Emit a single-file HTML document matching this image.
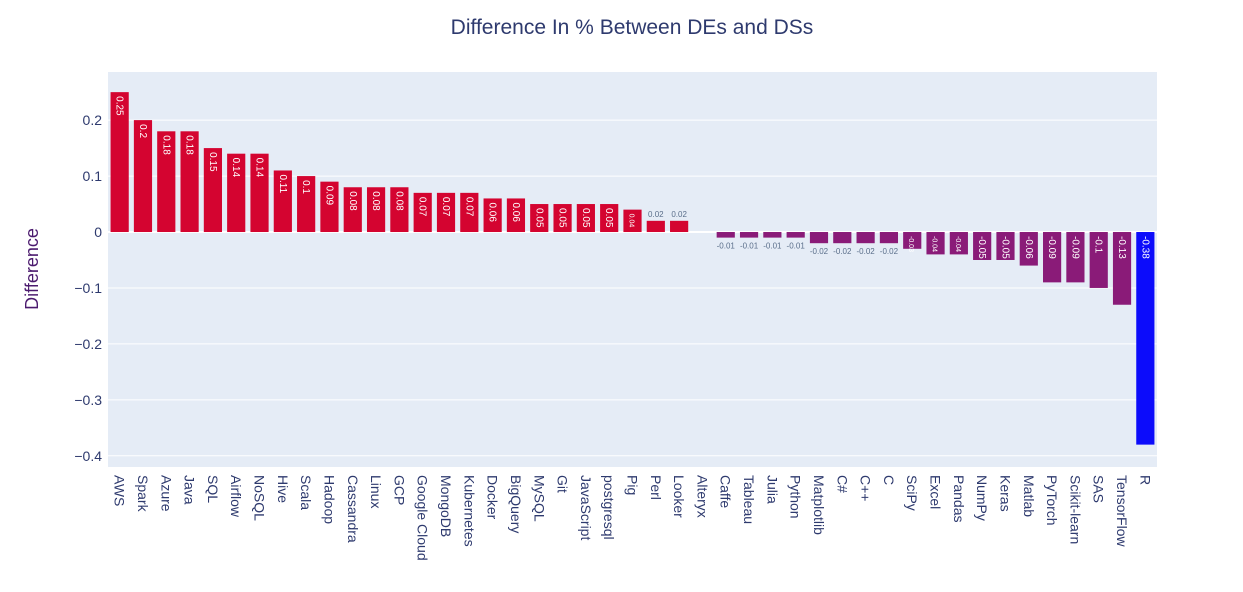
<!DOCTYPE html>
<html><head><meta charset="utf-8"><style>
body{margin:0;background:#fff;font-family:"Liberation Sans",sans-serif;}
</style></head><body>
<svg id="c" width="1243" height="587" xmlns="http://www.w3.org/2000/svg">
<rect x="0" y="0" width="1243" height="587" fill="#fff"/>
<rect x="108" y="72" width="1049" height="395" fill="#e5ecf6"/>
<text x="632" y="34" text-anchor="middle" font-size="21" fill="#2e3a6e">Difference In % Between DEs and DSs</text>
<text transform="translate(38,269) rotate(-90)" text-anchor="middle" font-size="18" fill="#4b1a6e">Difference</text>
<g id="grid"></g><g id="bars"></g><g id="labels"></g>
</svg>
<script>
const categories=["AWS","Spark","Azure","Java","SQL","Airflow","NoSQL","Hive","Scala","Hadoop","Cassandra","Linux","GCP","Google Cloud","MongoDB","Kubernetes","Docker","BigQuery","MySQL","Git","JavaScript","postgresql","Pig","Perl","Looker","Alteryx","Caffe","Tableau","Julia","Python","Matplotlib","C#","C++","C","SciPy","Excel","Pandas","NumPy","Keras","Matlab","PyTorch","Scikit-learn","SAS","TensorFlow","R"];
const values=[0.25,0.2,0.18,0.18,0.15,0.14,0.14,0.11,0.1,0.09,0.08,0.08,0.08,0.07,0.07,0.07,0.06,0.06,0.05,0.05,0.05,0.05,0.04,0.02,0.02,0,-0.01,-0.01,-0.01,-0.01,-0.02,-0.02,-0.02,-0.02,-0.03,-0.04,-0.04,-0.05,-0.05,-0.06,-0.09,-0.09,-0.1,-0.13,-0.38];
const yTicks=[0.2,0.1,0,-0.1,-0.2,-0.3,-0.4];
const yTickLabels=["0.2","0.1","0","−0.1","−0.2","−0.3","−0.4"];
const NS="http://www.w3.org/2000/svg";
const x0=108,x1=1157,yTop=72,yBot=467,yMax=0.286,yMin=-0.42;
const y=v=>yTop+(yMax-v)/(yMax-yMin)*(yBot-yTop);
const slot=(x1-x0)/categories.length;
const xc=i=>x0+slot*(i+0.5);
function mk(t,a){const e=document.createElementNS(NS,t);for(const k in a)e.setAttribute(k,a[k]);return e;}
const grid=document.getElementById('grid'),bars=document.getElementById('bars'),labels=document.getElementById('labels');
yTicks.forEach((t,i)=>{
 const l=mk('line',{x1:x0,x2:x1,y1:y(t),y2:y(t),stroke:'#fff','stroke-width':t===0?2:1});
 
 
 grid.appendChild(l);
 const tx=mk('text',{x:x0-6,y:y(t)+5,'text-anchor':'end','font-size':14,fill:'#2e3a6e'});
 tx.textContent=yTickLabels[i];
 
 
 grid.appendChild(tx);
});
const bw=slot*0.78;
values.forEach((v,i)=>{
 const col=v>0?'#d40430':(v<-0.2?'#0c0cfb':'#8a1b78');
 const top=Math.min(y(v),y(0)),h=Math.abs(y(v)-y(0));
 const r=mk('rect',{x:xc(i)-bw/2,y:top,width:bw,height:h,fill:col});
 
 
 bars.appendChild(r);
 if(v!==0){
  let t;
  if(Math.abs(v)>=0.03){
   const fs=Math.abs(v)>=0.05?10:7;
   t=mk('text',{transform:`translate(${xc(i)-3},${top+4}) rotate(90)`,'font-size':fs,fill:'#fff'});
  }else{
   const yy=v>0?top-4:top+h+11;
   t=mk('text',{x:xc(i),y:yy,'text-anchor':'middle','font-size':8,fill:'#5a6e8a'});
  }
  t.textContent=String(v);
  
  
  labels.appendChild(t);
 }
 const c=mk('text',{transform:`translate(${xc(i)-5},${yBot+8}) rotate(90)`,'font-size':14,fill:'#2e3a6e'});
 c.textContent=categories[i];
 
 
 labels.appendChild(c);
});
</script>
</body></html>
